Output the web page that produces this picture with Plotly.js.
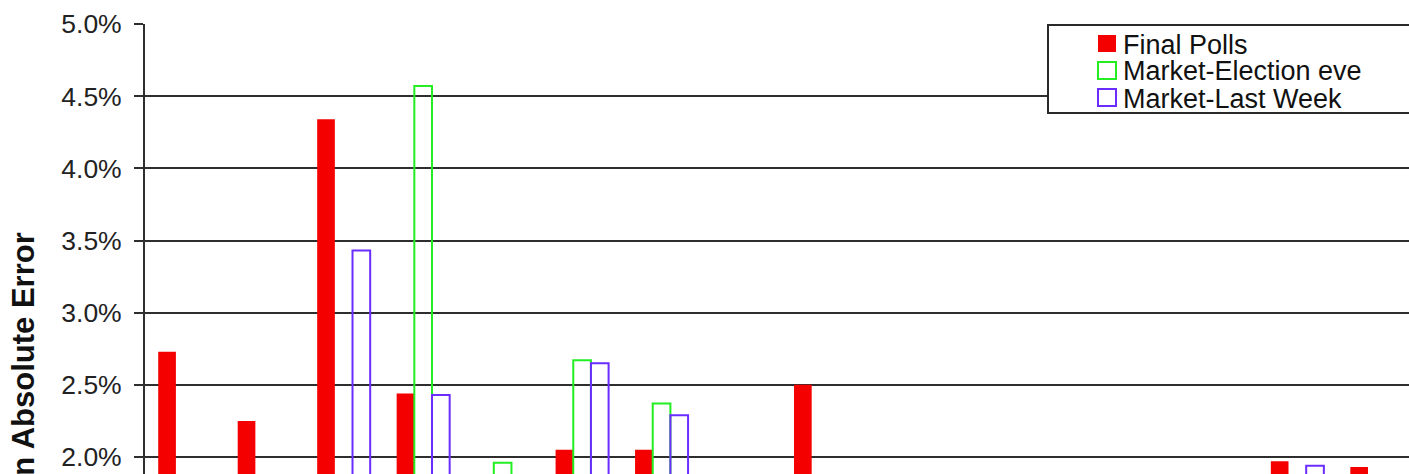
<!DOCTYPE html>
<html>
<head>
<meta charset="utf-8">
<script src="https://cdn.plot.ly/plotly-3.0.1.min.js"></script>
<style>
  html, body { margin: 0; padding: 0; background: #fff; overflow: hidden; }
  #chart { width: 1409px; height: 474px; }
</style>
</head>
<body>
<div id="chart"></div>
<script>
// Category slots (the category labels lie below the cropped view)
const categories = ["1","2","3","4","5","6","7","8","9","10","11","12","13","14","15","16"];
// Mean absolute error, in percent; null = bar not visible in the cropped view
const finalPolls       = [2.73, 2.25, 4.34, 2.44, null, 2.05, 2.05, null, 2.50, null, null, null, null, null, 1.97, 1.93];
const marketElectionEve = [null, null, null, 4.57, 1.96, 2.67, 2.37, null, null, null, null, null, null, null, null, null];
const marketLastWeek   = [null, null, 3.43, 2.43, null, 2.65, 2.29, null, null, null, null, null, null, null, 1.94, null];
const seriesNames = ["Final Polls", "Market-Election eve", "Market-Last Week"];
const yTitle = "Mean Absolute Error";

const RED = "#f40000", GREEN = "#22ee22", BLUE = "#6a2cff";

const W = 1409, H = 474;
const margin = {l: 145, r: 0, t: 24, b: 0};
const plotW = W - margin.l - margin.r, plotH = H - margin.t - margin.b;
const px2x = p => (p - margin.l) / plotW;
const px2y = p => (H - margin.b - p) / plotH;

const traces = [
  {type: "bar", name: seriesNames[0], x: categories, y: finalPolls,
   marker: {color: RED, line: {width: 0}}},
  {type: "bar", name: seriesNames[1], x: categories, y: marketElectionEve,
   marker: {color: "rgba(255,255,255,0)", line: {color: GREEN, width: 2}}},
  {type: "bar", name: seriesNames[2], x: categories, y: marketLastWeek,
   marker: {color: "rgba(255,255,255,0)", line: {color: BLUE, width: 2}}}
];

// Custom legend box (drawn to match the original's compact layout)
const shapes = [{
  type: "rect", xref: "paper", yref: "paper",
  x0: px2x(1048), x1: px2x(1440), y0: px2y(113), y1: px2y(25),
  fillcolor: "#ffffff", line: {color: "#2a2a2a", width: 2}, layer: "above"
}];
const annotations = [];
const legendRows = [43.5, 70.5, 97.5];
const legendStyles = [
  {fill: RED, line: RED, w: 0},
  {fill: "#ffffff", line: GREEN, w: 2},
  {fill: "#ffffff", line: BLUE, w: 2}
];
seriesNames.forEach((nm, i) => {
  const cy = legendRows[i];
  const st = legendStyles[i];
  shapes.push({
    type: "rect", xref: "paper", yref: "paper",
    x0: px2x(1098), x1: px2x(1116), y0: px2y(cy + 8.5), y1: px2y(cy - 8.5),
    fillcolor: st.fill, line: {color: st.line, width: st.w}, layer: "above"
  });
  annotations.push({
    xref: "paper", yref: "paper", x: px2x(1121), y: px2y(cy + 1),
    xanchor: "left", yanchor: "middle", showarrow: false, text: nm,
    font: {family: "Liberation Sans, Arial, sans-serif", size: 27, color: "#111"}
  });
});
// y-axis title: centred on the full (uncropped) plot height of the original
annotations.push({
  xref: "paper", yref: "paper", x: px2x(23), y: px2y(384),
  xanchor: "center", yanchor: "middle", showarrow: false, textangle: -90,
  text: yTitle,
  font: {family: "Liberation Sans, Arial, sans-serif", size: 31, color: "#111", weight: "bold"}
});

const layout = {
  width: W, height: H, margin: margin,
  paper_bgcolor: "#ffffff", plot_bgcolor: "#ffffff",
  barmode: "group", bargap: 0.333, bargroupgap: 0,
  showlegend: false,
  xaxis: {type: "category", range: [-0.5, 15.405], showgrid: false, zeroline: false,
          showline: false, showticklabels: false, ticks: ""},
  yaxis: {range: [1.882, 5.0005], dtick: 0.5, tick0: 0, tickformat: ".1f", ticksuffix: "%",
          showgrid: true, gridcolor: "#2e2e2e", gridwidth: 2, zeroline: false,
          showline: true, linecolor: "#2e2e2e", linewidth: 2,
          ticks: "outside", ticklen: 9, tickwidth: 2, tickcolor: "#2e2e2e",
          ticklabelstandoff: 7,
          tickfont: {family: "Liberation Sans, Arial, sans-serif", size: 26.5, color: "#222"}},
  shapes: shapes, annotations: annotations
};

Plotly.newPlot("chart", traces, layout, {displayModeBar: false, staticPlot: true});
</script>
</body>
</html>
